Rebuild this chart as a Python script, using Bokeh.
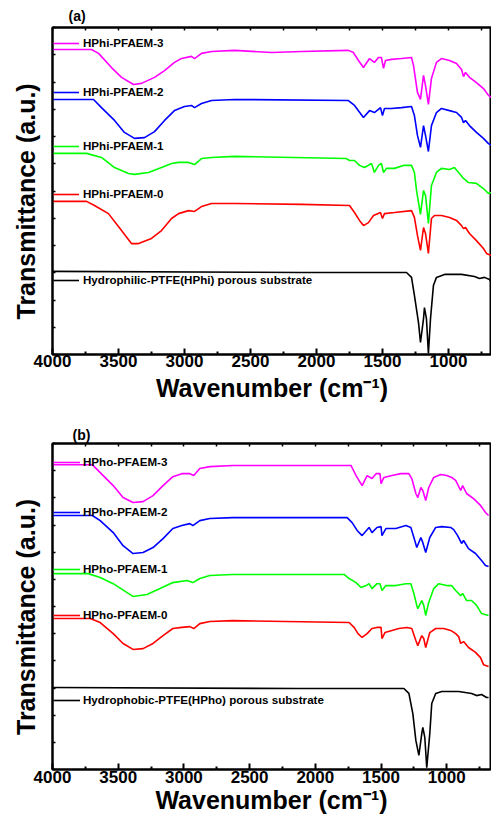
from bokeh.plotting import figure
from bokeh.models import Range1d, LinearAxis, Legend, LegendItem, FixedTicker
from bokeh.core.properties import value
from bokeh.layouts import column
from bokeh.embed import file_html
from bokeh.resources import INLINE

FONT = "Liberation Sans"

# ---------------- axis ticks ----------------
x_major = [4000, 3500, 3000, 2500, 2000, 1500, 1000]
x_minor = [3750, 3250, 2750, 2250, 1750, 1250, 750]
x_all = sorted(x_major + x_minor)
y_ticks = list(range(0, 121, 10))

colors = ["#ff00ff", "#0000ff", "#00ff00", "#ff0000", "#000000"]

# ---------------- panel (a): hydrophilic substrate ----------------
labels_a = ["HPhi-PFAEM-3", "HPhi-PFAEM-2", "HPhi-PFAEM-1", "HPhi-PFAEM-0",
            "Hydrophilic-PTFE(HPhi) porous substrate"]

wn_a3 = [4000, 3705, 3651, 3553, 3477, 3386, 3326, 3227, 3151, 3076, 3023, 2947, 2924, 2871, 2795, 2621, 2341, 2114,
         1758, 1720, 1682, 1644, 1598, 1561, 1530, 1508, 1492, 1477, 1432, 1356, 1280, 1265, 1235, 1212, 1189, 1174,
         1152, 1129, 1091, 1053, 992, 939, 901, 886, 871, 841, 788, 735, 697, 674]
t_a3 = [111.9, 111.9, 110.5, 105.3, 101.7, 99.1, 99.5, 101.7, 104.2, 107.2, 108.6, 109.4, 108.6, 110.5, 111.2, 111.6, 110.8, 111.2,
        111.6, 110.8, 107.9, 105.3, 108.6, 107.2, 109.0, 109.0, 105.0, 107.9, 108.3, 108.6, 109.0, 106.1, 96.2, 93.6, 102.4, 98.7,
        91.8, 101.3, 107.2, 108.6, 107.9, 106.8, 104.6, 102.0, 103.5, 101.7, 99.8, 97.6, 95.1, 94.3]

wn_a2 = [4000, 3689, 3629, 3530, 3455, 3379, 3303, 3227, 3151, 3076, 3000, 2947, 2924, 2871, 2795, 2621,
         1758, 1712, 1644, 1598, 1561, 1515, 1500, 1485, 1432, 1356, 1280, 1258, 1235, 1212, 1189, 1174,
         1152, 1129, 1091, 1053, 992, 939, 901, 886, 871, 841, 788, 735, 697, 674]
t_a2 = [93.6, 93.6, 90.6, 85.9, 81.5, 79.3, 79.6, 81.8, 85.9, 89.5, 91.0, 91.4, 90.6, 92.1, 93.2, 93.6,
        93.2, 91.4, 87.0, 89.5, 88.8, 90.6, 87.7, 90.3, 90.3, 90.6, 91.0, 87.7, 80.4, 76.0, 84.0, 80.4,
        74.5, 84.0, 88.8, 90.3, 89.5, 88.8, 87.0, 85.1, 85.9, 84.0, 81.5, 79.3, 77.4, 76.7]

wn_a1 = [4000, 3742, 3629, 3530, 3424, 3379, 3273, 3174, 3098, 3045, 2970, 2924, 2871, 2795, 2621,
         1773, 1750, 1712, 1674, 1636, 1583, 1561, 1530, 1508, 1492, 1470, 1409, 1341, 1280, 1258, 1242,
         1212, 1189, 1174, 1152, 1129, 1091, 1053, 992, 955, 917, 886, 848, 788, 735, 697, 674]
t_a1 = [73.8, 73.8, 72.3, 68.6, 66.4, 66.1, 66.8, 68.6, 70.1, 70.5, 70.5, 69.7, 71.9, 72.3, 72.7,
        71.9, 71.2, 71.2, 69.4, 68.6, 70.1, 66.8, 69.4, 70.1, 66.8, 68.3, 68.3, 69.4, 69.4, 66.8, 60.2,
        51.4, 60.2, 58.4, 48.1, 62.0, 66.8, 68.3, 67.9, 68.6, 66.4, 64.6, 63.1, 62.8, 60.9, 59.1, 59.5]

wn_a0 = [4000, 3742, 3682, 3576, 3477, 3402, 3348, 3250, 3174, 3098, 3045, 2970, 2924, 2871, 2795, 2621, 2114,
         1750, 1712, 1674, 1644, 1606, 1568, 1515, 1500, 1485, 1409, 1280, 1258, 1235, 1212, 1189, 1174,
         1152, 1129, 1106, 1053, 992, 939, 901, 886, 871, 841, 788, 735, 712, 674]
t_a0 = [56.2, 56.2, 54.7, 51.7, 45.5, 40.7, 40.7, 42.6, 45.5, 49.9, 51.7, 52.8, 52.5, 54.3, 55.4, 55.4, 55.1,
        54.7, 52.1, 49.2, 47.3, 48.4, 51.0, 52.1, 49.9, 51.7, 52.1, 52.8, 50.3, 43.7, 38.2, 46.6, 44.4,
        37.1, 49.9, 51.0, 51.0, 50.3, 49.2, 47.3, 46.2, 46.6, 44.4, 41.8, 38.9, 37.1, 36.3]

wn_as = [4000, 2492, 2114, 1318, 1280, 1258, 1227, 1212, 1189, 1182, 1167, 1152, 1136, 1114, 1091,
         1030, 901, 803, 765, 727, 689, 674]
t_as = [30.5, 30.2, 30.1, 30.1, 28.3, 21.7, 11.7, 4.4, 13.2, 17.2, 13.2, 0.4, 13.2, 25.3, 28.3,
        29.4, 29.4, 28.6, 27.9, 28.3, 27.5, 26.4]

# ---------------- panel (b): hydrophobic substrate ----------------
labels_b = ["HPho-PFAEM-3", "HPho-PFAEM-2", "HPho-PFAEM-1", "HPho-PFAEM-0",
            "Hydrophobic-PTFE(HPho) porous substrate"]

wn_b3 = [4000, 3697, 3637, 3538, 3463, 3387, 3311, 3235, 3159, 3084, 3016, 2955, 2925, 2879, 2803, 2629,
         1728, 1690, 1644, 1606, 1569, 1538, 1508, 1500, 1478, 1417, 1349, 1288, 1266, 1235, 1220, 1197,
         1182, 1160, 1137, 1099, 1046, 1000, 963, 932, 894, 879, 849, 796, 743, 705, 682]
t_b3 = [112.2, 112.2, 109.3, 104.5, 100.1, 98.3, 98.6, 100.8, 104.5, 107.8, 108.9, 108.9, 108.2, 110.8, 111.5, 111.9,
        111.9, 108.2, 104.5, 108.2, 107.1, 108.9, 108.9, 105.2, 107.5, 108.2, 108.9, 108.9, 107.1, 101.6, 100.1, 103.8,
        102.7, 99.0, 103.8, 107.5, 108.6, 108.2, 107.5, 106.4, 102.7, 104.5, 101.6, 99.7, 97.2, 94.6, 93.5]

wn_b2 = [4000, 3697, 3637, 3538, 3463, 3387, 3311, 3235, 3159, 3084, 3016, 2955, 2932, 2879, 2803, 2629,
         1758, 1720, 1682, 1644, 1591, 1569, 1531, 1500, 1493, 1463, 1387, 1311, 1273, 1250, 1228, 1197,
         1182, 1160, 1129, 1084, 1038, 970, 947, 917, 887, 872, 834, 781, 735, 705, 682]
t_b2 = [93.5, 93.5, 91.6, 87.2, 82.4, 79.5, 79.9, 81.7, 85.0, 88.7, 89.8, 90.5, 89.8, 91.6, 92.4, 92.7,
        92.7, 90.9, 88.0, 86.1, 89.1, 87.2, 89.1, 89.4, 86.1, 88.7, 88.7, 89.8, 89.1, 85.4, 81.7, 85.4,
        83.5, 79.9, 85.4, 89.1, 89.4, 89.1, 88.3, 86.1, 83.2, 84.3, 81.3, 79.5, 76.9, 75.1, 74.7]

wn_b1 = [4000, 3728, 3637, 3538, 3432, 3387, 3281, 3182, 3084, 2978, 2932, 2879, 2803, 2629,
         1781, 1743, 1690, 1652, 1614, 1591, 1569, 1531, 1508, 1493, 1463, 1387, 1311, 1273, 1250, 1228,
         1220, 1190, 1175, 1160, 1137, 1099, 1061, 1000, 963, 932, 894, 879, 849, 811, 773, 735, 682]
t_b1 = [72.1, 72.1, 70.7, 68.4, 65.1, 63.7, 64.4, 66.6, 68.8, 69.6, 68.8, 70.3, 71.4, 71.8,
        71.8, 70.3, 68.8, 67.0, 67.7, 68.4, 66.6, 68.4, 68.4, 65.9, 67.7, 67.7, 68.4, 68.4, 64.8, 60.4,
        59.2, 62.2, 60.4, 56.7, 61.5, 66.6, 68.4, 67.7, 67.7, 65.9, 64.0, 64.8, 62.2, 62.2, 60.4, 57.4, 56.7]

wn_b0 = [4000, 3713, 3637, 3538, 3463, 3387, 3311, 3235, 3159, 3084, 3016, 2955, 2925, 2879, 2803, 2629,
         1743, 1705, 1675, 1644, 1606, 1569, 1531, 1500, 1493, 1470, 1417, 1364, 1303, 1266, 1235, 1220,
         1190, 1175, 1160, 1129, 1084, 1023, 970, 932, 909, 894, 872, 834, 781, 743, 720, 682]
t_b0 = [55.6, 55.6, 54.1, 50.0, 46.4, 44.2, 44.5, 46.4, 49.3, 51.9, 52.3, 52.6, 51.9, 53.7, 54.5, 54.8,
        54.1, 52.3, 50.0, 48.6, 50.0, 51.9, 52.3, 52.3, 48.2, 50.4, 51.2, 51.9, 52.3, 51.9, 47.5, 45.6,
        49.3, 48.2, 44.9, 50.4, 51.9, 51.9, 51.2, 50.0, 48.9, 46.4, 47.1, 44.9, 43.1, 41.2, 38.6, 37.9]

wn_bs = [4000, 2122, 1326, 1288, 1258, 1235, 1212, 1190, 1182, 1167, 1152, 1129, 1114, 1084,
         1038, 909, 811, 773, 735, 697, 682]
t_bs = [30.2, 29.8, 29.8, 28.0, 20.6, 10.7, 5.2, 13.2, 15.5, 11.8, 0.7, 13.2, 24.3, 28.0,
        28.7, 28.7, 28.0, 27.2, 27.6, 26.5, 26.5]


def build(title, xs, ys, labels, leg_y, border_left, border_top, frame_w, frame_h, x_end,
          tick_standoff, axlabel_standoff, glyph_w, glyph_gap, title_offset, title_standoff):
    p = figure(frame_width=frame_w, frame_height=frame_h,
               x_range=Range1d(4000, x_end), y_range=Range1d(0, 120),
               output_backend="svg", toolbar_location=None,
               min_border_left=border_left, min_border_right=1,
               min_border_top=border_top, min_border_bottom=0, title=title)
    p.background_fill_color = "white"
    p.border_fill_color = "white"
    p.grid.visible = False
    p.outline_line_color = "black"
    p.outline_line_width = 2

    p.title.align = "left"
    p.title.offset = title_offset
    p.title.text_font = FONT
    p.title.text_font_size = "14px"
    p.title.text_font_style = "bold"
    p.title.text_color = "black"
    p.title.standoff = title_standoff

    xa = p.xaxis[0]
    xa.ticker = FixedTicker(ticks=x_major, minor_ticks=x_minor)
    xa.major_tick_in = 6
    xa.major_tick_out = 0
    xa.minor_tick_in = 3
    xa.minor_tick_out = 0
    xa.major_tick_line_width = 2
    xa.minor_tick_line_width = 2
    xa.axis_line_width = 2
    xa.major_label_text_font = FONT
    xa.major_label_text_font_size = "17px"
    xa.major_label_text_font_style = "bold"
    xa.major_label_text_color = "black"
    xa.major_label_standoff = tick_standoff
    xa.axis_label = "Wavenumber (cm\u207b\u00b9)"
    xa.axis_label_text_font = FONT
    xa.axis_label_text_font_size = "25px"
    xa.axis_label_text_font_style = "bold"
    xa.axis_label_text_color = "black"
    xa.axis_label_standoff = axlabel_standoff

    # mirrored top axis: ticks only (drawn as unlabeled minor ticks)
    top = LinearAxis(ticker=FixedTicker(ticks=[], minor_ticks=x_all),
                     minor_tick_in=3, minor_tick_out=0, minor_tick_line_width=1.5,
                     major_tick_in=0, major_tick_out=0, axis_line_width=2)
    p.add_layout(top, "above")

    ya = p.yaxis[0]
    ya.ticker = FixedTicker(ticks=[], minor_ticks=y_ticks)
    ya.minor_tick_in = 3
    ya.minor_tick_out = 0
    ya.minor_tick_line_width = 1.5
    ya.major_tick_in = 0
    ya.major_tick_out = 0
    ya.axis_line_width = 2
    ya.major_label_standoff = 0
    ya.axis_label = "Transmittance (a.u.)\u00a0\u00a0\u00a0"
    ya.axis_label_text_font = FONT
    ya.axis_label_text_font_size = "25px"
    ya.axis_label_text_font_style = "bold"
    ya.axis_label_text_color = "black"
    ya.axis_label_standoff = 13

    for x, y, lab, col, ly in zip(xs, ys, labels, colors, leg_y):
        r = p.line(x, y, line_color=col, line_width=1.6)
        leg = Legend(items=[LegendItem(label=value(lab), renderers=[r])], location=(1, ly),
                     border_line_color=None, background_fill_alpha=0, padding=0, margin=0,
                     spacing=0, glyph_width=glyph_w, glyph_height=12, label_height=12,
                     label_standoff=glyph_gap, label_text_font=FONT, label_text_font_size="11.6px",
                     label_text_font_style="bold", label_text_color="black")
        p.add_layout(leg)
    return p


pa = build("(a)", [wn_a3, wn_a2, wn_a1, wn_a0, wn_as], [t_a3, t_a2, t_a1, t_a0, t_as], labels_a,
           [305, 256, 202, 154, 68], 51, 27, 439, 327, 674, 0, 4, 26, 4, 16, 8)
pb = build("(b)", [wn_b3, wn_b2, wn_b1, wn_b0, wn_bs], [t_b3, t_b2, t_b1, t_b0, t_bs], labels_b,
           [301, 251, 194, 148, 63], 52, 39, 438, 326, 667, 1, 0, 27, 3, 20, 1)

layout = column(pa, pb)
open("out.html", "w").write(file_html(layout, INLINE))
